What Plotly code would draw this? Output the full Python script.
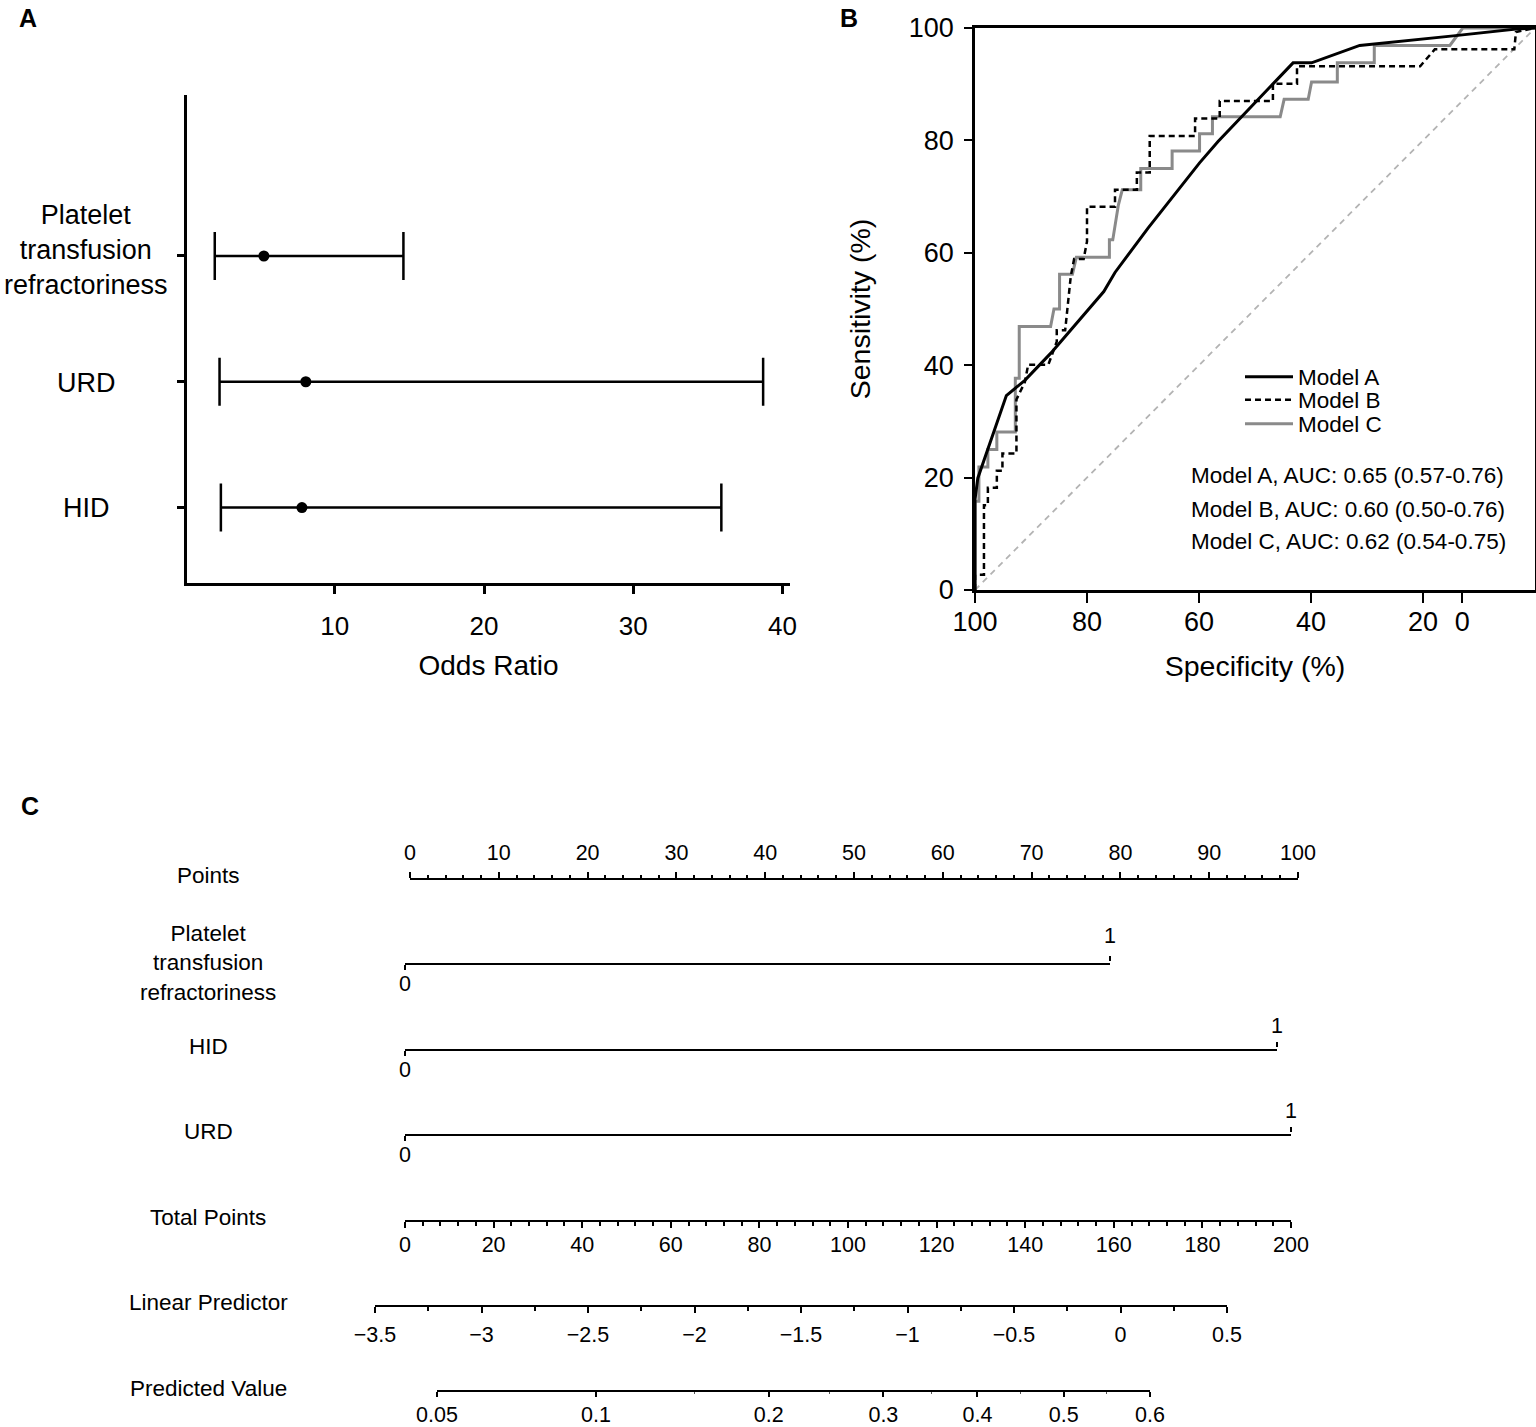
import numpy as np
import plotly.graph_objects as go

W, H = 1536, 1427
FONT = "Arial, Liberation Sans, sans-serif"

# ---------- panel A: odds ratios ----------
or_labels = ["Platelet<br>transfusion<br>refractoriness", "URD", "HID"]
or_rows = [3, 2, 1]
or_est = [5.25, 8.06, 7.8]
or_low = [1.96, 2.28, 2.37]
or_high = [14.6, 38.7, 35.9]
or_ticks = [10, 20, 30, 40]

# ---------- panel B: ROC curves (specificity %, sensitivity %) ----------
spec_a = [100, 100, 99.5, 94.4, 91.1, 86.5, 77.0, 75.0, 69.1, 59.9, 56.6, 52.0,
          46.8, 43.2, 39.9, 31.3, 14.6, 3.4, 0]
sens_a = [0, 16.1, 19.9, 34.6, 37.3, 42.1, 53.1, 56.5, 64.4, 76.0, 79.8, 84.6,
          90.1, 93.8, 93.8, 96.9, 98.6, 99.8, 100]

spec_b = [100, 100, 98.4, 98.4, 97.7, 97.7, 96.1, 96.1, 95.1, 95.1, 92.6, 92.6,
          91.1, 90.5, 86.9, 85.4, 85.4, 83.9, 82.9, 82.3, 80.6, 80.0, 80.0, 75.0,
          75.0, 71.1, 71.1, 68.8, 68.8, 60.7, 60.7, 56.3, 56.3, 46.8, 46.8, 42.5,
          42.5, 20.5, 17.9, 3.7, 3.4, 0]
sens_b = [0, 2.7, 2.7, 15.1, 15.1, 18.2, 18.2, 21.2, 21.2, 24.3, 24.3, 33.9,
          37.0, 40.1, 40.1, 44.2, 46.2, 46.2, 55.8, 58.9, 58.9, 62.0, 68.2, 68.2,
          71.2, 71.2, 74.3, 74.3, 80.8, 80.8, 83.9, 83.9, 87.0, 87.0, 90.1, 90.1,
          93.2, 93.2, 96.2, 96.2, 99.3, 100]

spec_c = [100, 100, 99.3, 99.3, 97.7, 97.7, 96.1, 96.1, 92.8, 92.8, 92.1, 92.1,
          86.5, 85.9, 84.9, 84.9, 82.6, 81.9, 76.0, 76.0, 75.4, 74.4, 73.7, 70.4,
          70.4, 64.8, 64.8, 59.9, 59.9, 57.6, 57.6, 45.5, 44.8, 40.5, 39.9, 35.3,
          35.3, 28.7, 28.7, 15.2, 12.9, 0]
sens_c = [0, 15.8, 15.8, 21.9, 21.9, 25.0, 25.0, 28.1, 28.1, 37.7, 37.7, 46.9,
          46.9, 50.0, 50.0, 56.2, 56.2, 59.2, 59.2, 62.3, 62.3, 68.5, 71.2, 71.2,
          75.0, 75.0, 78.1, 78.1, 81.2, 81.2, 84.2, 84.2, 87.3, 87.3, 90.4, 90.4,
          93.8, 93.8, 96.9, 96.9, 100, 100]

diag_spec = [100, 0]
diag_sens = [0, 100]
model_names = ["Model A", "Model B", "Model C"]
auc_text = ["Model A, AUC: 0.65 (0.57-0.76)",
            "Model B, AUC: 0.60 (0.50-0.76)",
            "Model C, AUC: 0.62 (0.54-0.75)"]
spec_ticks = [100, 80, 60, 40, 20, 13]
spec_ticktext = ["100", "80", "60", "40", "20", "0"]
sens_ticks = [0, 20, 40, 60, 80, 100]

# ---------- panel C: nomogram ----------
nomo_labels = ["Points", "Platelet<br>transfusion<br>refractoriness", "HID", "URD",
               "Total Points", "Linear Predictor", "Predicted Value"]
points_ticks = [0, 10, 20, 30, 40, 50, 60, 70, 80, 90, 100]
binary_levels = [0, 1]
total_ticks = [0, 20, 40, 60, 80, 100, 120, 140, 160, 180, 200]
lp_ticks = [-3.5, -3, -2.5, -2, -1.5, -1, -0.5, 0, 0.5]
lp_ticktext = ["\u22123.5", "\u22123", "\u22122.5", "\u22122", "\u22121.5", "\u22121",
               "\u22120.5", "0", "0.5"]
pred_ticks = [0.05, 0.1, 0.2, 0.3, 0.4, 0.5, 0.6]
pred_minor = [0.15, 0.25, 0.35, 0.45, 0.55]


def px(p):
    return p / W


def py(p):
    return 1 - p / H


def logit(p):
    p = np.asarray(p, dtype=float)
    return np.log(p / (1 - p))


fig = go.Figure()

# ----- A -----
fig.add_trace(go.Scatter(
    x=or_est, y=or_rows, mode="markers",
    marker=dict(color="black", size=11),
    error_x=dict(type="data", symmetric=False,
                 array=[h - e for h, e in zip(or_high, or_est)],
                 arrayminus=[e - l for e, l in zip(or_est, or_low)],
                 color="black", thickness=2.5, width=24),
    xaxis="x", yaxis="y", showlegend=False, hoverinfo="skip"))

# ----- B -----
fig.add_trace(go.Scatter(x=diag_spec, y=diag_sens, mode="lines",
                         line=dict(color="#b3b3b3", width=1.8, dash="6px,5px"),
                         xaxis="x2", yaxis="y2", showlegend=False, hoverinfo="skip"))
roc = [(spec_c, sens_c, dict(color="#8a8a8a", width=3), "legend3"),
       (spec_b, sens_b, dict(color="black", width=2.5, dash="6px,4px"), "legend2"),
       (spec_a, sens_a, dict(color="black", width=3), "legend")]
for (sx, sy, ln, lg), name in zip(roc, model_names[::-1]):
    fig.add_trace(go.Scatter(x=sx, y=sy, mode="lines", line=ln, name=name,
                             legend=lg, xaxis="x2", yaxis="y2", hoverinfo="skip"))

# ----- C: one small axis per nomogram row -----
row_y = [881, 963, 1049, 1134, 1220, 1305, 1390]
label_y = [875, 963, 1046, 1131, 1217, 1302, 1388]

axis_common = dict(showline=True, linecolor="black", linewidth=2, ticks="outside",
                   tickcolor="black", tickwidth=1.5, showgrid=False, zeroline=False,
                   automargin=False,
                   tickfont=dict(size=21.5, color="black", family=FONT), fixedrange=True)

layout_axes = {}


def row_yaxis(n, ypx):
    layout_axes["yaxis%d" % n] = dict(domain=[py(ypx), py(ypx) + 0.0004], range=[0, 1],
                                      visible=False, fixedrange=True, automargin=False)


def dummy(xref, yref, xs):
    fig.add_trace(go.Scatter(x=xs, y=[0] * len(xs), mode="markers",
                             marker=dict(opacity=0, size=1), xaxis=xref, yaxis=yref,
                             showlegend=False, hoverinfo="skip"))


# Points
row_yaxis(3, row_y[0])
layout_axes["xaxis3"] = dict(axis_common, domain=[px(410), px(1298)], range=[0, 100],
                             anchor="y3", side="top", tickvals=points_ticks, ticklen=6,
                             ticklabelstandoff=4,
                             minor=dict(dtick=2, tick0=0, ticklen=3.5, ticks="outside",
                                        tickcolor="black", tickwidth=1.5))
dummy("x3", "y3", [points_ticks[0], points_ticks[-1]])

# binary predictors: 0 below the line, 1 above it
binary_rows = [(4, 5, row_y[1], 1110, 4), (6, 7, row_y[2], 1277, 0),
               (8, 9, row_y[3], 1291, 0)]
for nb, nt, ypx, xend, up in binary_rows:
    row_yaxis(nb, ypx)
    layout_axes["xaxis%d" % nb] = dict(axis_common, domain=[px(405), px(xend)],
                                       range=[binary_levels[0], binary_levels[-1]],
                                       anchor="y%d" % nb, side="bottom",
                                       tickvals=[binary_levels[0]], ticklen=5,
                                       ticklabelstandoff=-5)
    layout_axes["xaxis%d" % nt] = dict(axis_common, showline=False,
                                       range=[binary_levels[0], binary_levels[-1]],
                                       anchor="y%d" % nb, overlaying="x%d" % nb,
                                       side="top", tickvals=[binary_levels[1]], ticklen=5,
                                       ticklabelstandoff=1 + up)
    dummy("x%d" % nb, "y%d" % nb, binary_levels)
    dummy("x%d" % nt, "y%d" % nb, binary_levels)

# Total points
row_yaxis(10, row_y[4])
layout_axes["xaxis10"] = dict(axis_common, domain=[px(405), px(1291)], range=[0, 200],
                              anchor="y10", side="bottom", tickvals=total_ticks, ticklen=6,
                              ticklabelstandoff=-2,
                              minor=dict(dtick=4, tick0=0, ticklen=3.5, ticks="outside",
                                         tickcolor="black", tickwidth=1.5))
dummy("x10", "y10", [total_ticks[0], total_ticks[-1]])

# Linear predictor
row_yaxis(11, row_y[5])
layout_axes["xaxis11"] = dict(axis_common, domain=[px(375), px(1227)],
                              range=[lp_ticks[0], lp_ticks[-1]], anchor="y11",
                              side="bottom", tickvals=lp_ticks, ticktext=lp_ticktext,
                              ticklen=6, ticklabelstandoff=3,
                              minor=dict(dtick=0.25, tick0=0, ticklen=3.5, ticks="outside",
                                         tickcolor="black", tickwidth=1.5))
dummy("x11", "y11", [lp_ticks[0], lp_ticks[-1]])

# Predicted value (logit scale)
row_yaxis(12, row_y[6])
pred_pos = logit(pred_ticks)
layout_axes["xaxis12"] = dict(axis_common, domain=[px(437), px(1150)],
                              range=[float(pred_pos[0]), float(pred_pos[-1])],
                              anchor="y12", side="bottom", tickvals=list(pred_pos),
                              ticktext=[str(v) for v in pred_ticks], ticklen=5,
                              ticklabelstandoff=-1,
                              minor=dict(tickmode="array", tickvals=list(logit(pred_minor)),
                                         ticklen=2, ticks="outside", tickcolor="#555",
                                         tickwidth=1))
dummy("x12", "y12", [float(pred_pos[0]), float(pred_pos[-1])])

# ----- annotations -----
ann = []
for lab, yy in zip(or_labels, [250, 383, 508]):
    ann.append(dict(text=lab, x=px(86), y=py(yy), xref="paper", yref="paper",
                    showarrow=False, xanchor="center", yanchor="middle",
                    font=dict(size=27, color="black", family=FONT)))
for lab, yy in zip(nomo_labels, label_y):
    ann.append(dict(text=lab, x=px(208), y=py(yy), xref="paper", yref="paper",
                    showarrow=False, xanchor="center", yanchor="middle",
                    font=dict(size=22.5, color="black", family=FONT)))
for t, yy in zip(auc_text, [476, 509, 541]):
    ann.append(dict(text=t, x=px(1189), y=py(yy), xref="paper", yref="paper",
                    showarrow=False, xanchor="left", yanchor="middle",
                    font=dict(size=22.5, color="black", family=FONT)))
for t, xx, yy in [("A", 28, 18), ("B", 849, 18), ("C", 30, 806)]:
    ann.append(dict(text="<b>%s</b>" % t, x=px(xx), y=py(yy), xref="paper", yref="paper",
                    showarrow=False, xanchor="center", yanchor="middle",
                    font=dict(size=25, color="black", family=FONT)))

legend_common = dict(x=px(1240), xanchor="left", yanchor="middle",
                     bgcolor="rgba(0,0,0,0)", borderwidth=0, itemwidth=48,
                     font=dict(size=22.5, color="black", family=FONT))

fig.update_layout(
    template="none",
    width=W, height=H, margin=dict(l=0, r=0, t=0, b=0, autoexpand=False),
    paper_bgcolor="white", plot_bgcolor="white",
    font=dict(family=FONT, color="black"),
    xaxis=dict(domain=[px(187), px(790)], range=[0.1, 40.5], anchor="y",
               showline=True, linecolor="black", linewidth=2.5, ticks="outside",
               ticklen=8, tickwidth=2.5, tickcolor="black", tickvals=or_ticks,
               showgrid=False, zeroline=False, ticklabelstandoff=10, automargin=False,
               tickfont=dict(size=26, color="black"),
               title=dict(text="Odds Ratio", font=dict(size=28, color="black"), standoff=16)),
    yaxis=dict(domain=[py(583), py(95)], range=[0.4, 4.28], anchor="x",
               showline=True, linecolor="black", linewidth=2.5, ticks="outside",
               ticklen=7, tickwidth=2.5, tickcolor="black", tickvals=or_rows,
               showticklabels=False, showgrid=False, zeroline=False, automargin=False),
    xaxis2=dict(domain=[px(975), px(1535)], range=[100, 0], anchor="y2",
                showline=True, mirror=True, linecolor="black", linewidth=2.5,
                ticks="outside", ticklen=10, tickwidth=2, tickcolor="black",
                tickvals=spec_ticks, ticktext=spec_ticktext, showgrid=False,
                zeroline=False, ticklabelstandoff=-4, automargin=False,
                tickfont=dict(size=27, color="black"),
                title=dict(text="Specificity (%)", font=dict(size=28.5, color="black"),
                           standoff=20)),
    yaxis2=dict(domain=[py(590), py(28)], range=[0, 100], anchor="x2",
                showline=True, mirror=True, linecolor="black", linewidth=2.5,
                ticks="outside", ticklen=8, tickwidth=2, tickcolor="black",
                tickvals=sens_ticks, showgrid=False, zeroline=False,
                ticklabelstandoff=5, automargin=False, tickfont=dict(size=27, color="black"),
                title=dict(text="Sensitivity (%)", font=dict(size=28.5, color="black"),
                           standoff=30)),
    legend=dict(legend_common, y=py(377)),
    legend2=dict(legend_common, y=py(400)),
    legend3=dict(legend_common, y=py(424)),
    annotations=ann,
    **layout_axes,
)

# the page body has a default 8px margin; drop it so the figure fills the window
fig.write_html("out.html", config={"displayModeBar": False},
               post_script="document.body.style.margin='0';")
